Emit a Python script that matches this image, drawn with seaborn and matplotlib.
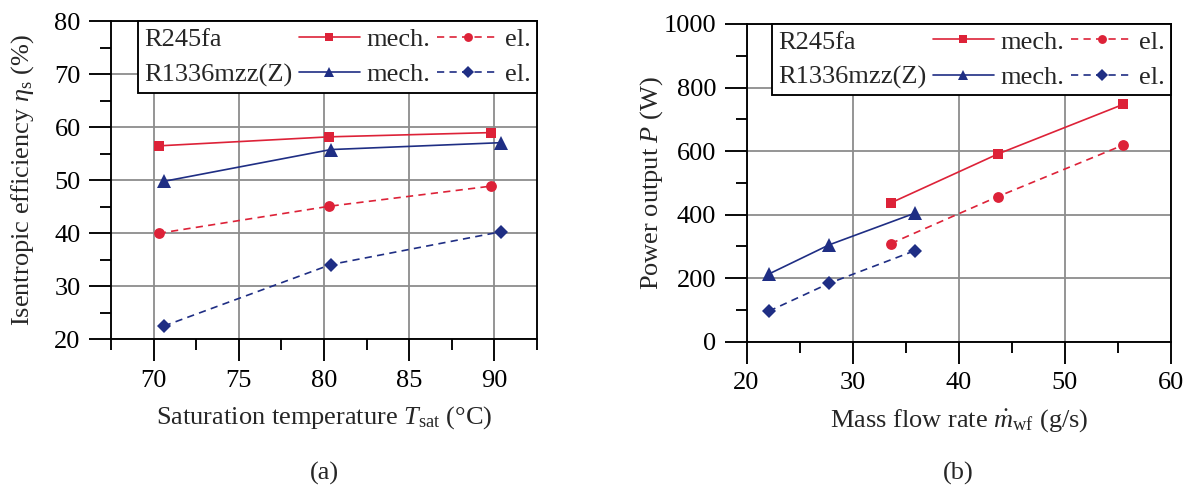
import numpy as np
import pandas as pd
import matplotlib
matplotlib.use("Agg")
import matplotlib.pyplot as plt
from matplotlib.lines import Line2D
from matplotlib.ticker import MultipleLocator
import seaborn as sns

# ---- data -------------------------------------------------------------
# (a) isentropic efficiency vs saturation temperature
t_sat_r245fa = [70.3, 80.3, 89.8]
eta_r245fa_mech = [56.5, 58.2, 59.0]
eta_r245fa_el = [40.0, 45.1, 48.9]
t_sat_r1336 = [70.6, 80.4, 90.4]
eta_r1336_mech = [49.8, 55.8, 57.1]
eta_r1336_el = [22.5, 34.1, 40.3]

# (b) power output vs mass flow rate
mdot_r245fa = [33.6, 43.7, 55.5]
p_r245fa_mech = [437, 591, 747]
p_r245fa_el = [309, 457, 619]
mdot_r1336 = [22.1, 27.8, 35.9]
p_r1336_mech = [213, 305, 405]
p_r1336_el = [96, 184, 287]

fluids = ["R245fa", "R1336mzz(Z)"]
modes = ["mech.", "el."]
panel_tags = ["(a)", "(b)"]

# ---- style ------------------------------------------------------------
sns.set_style("ticks")
plt.rcParams["font.family"] = ["Liberation Serif", "DejaVu Serif"]
plt.rcParams["mathtext.fontset"] = "custom"
plt.rcParams["mathtext.rm"] = "Liberation Serif"
plt.rcParams["mathtext.it"] = "Liberation Serif:italic"
plt.rcParams["mathtext.bf"] = "Liberation Serif:bold"
plt.rcParams["lines.scale_dashes"] = False

FS = 19
RED = "#DD2238"
BLUE = "#1F2E84"
GRID = "#8C8C8C"
LW = 1.2
DASH = (0, (5.2, 3.8))

style = {
    ("R245fa", "mech."): dict(color=RED, marker="s", markersize=6.6, linestyle="-"),
    ("R245fa", "el."): dict(color=RED, marker="o", markersize=7.8, linestyle=DASH),
    ("R1336mzz(Z)", "mech."): dict(color=BLUE, marker="^", markersize=9.6, linestyle="-"),
    ("R1336mzz(Z)", "el."): dict(color=BLUE, marker="D", markersize=7.2, linestyle=DASH),
}

fig = plt.figure(figsize=(11.91, 4.86), dpi=100)
W, H = 1191.0, 486.0
ax_a = fig.add_axes([111 / W, 1 - 339.3 / H, 426 / W, 318 / H])
ax_b = fig.add_axes([746.5 / W, 1 - 341.7 / H, 424.5 / W, 317.7 / H])

series_a = {
    ("R245fa", "mech."): (t_sat_r245fa, eta_r245fa_mech),
    ("R245fa", "el."): (t_sat_r245fa, eta_r245fa_el),
    ("R1336mzz(Z)", "mech."): (t_sat_r1336, eta_r1336_mech),
    ("R1336mzz(Z)", "el."): (t_sat_r1336, eta_r1336_el),
}
series_b = {
    ("R245fa", "mech."): (mdot_r245fa, p_r245fa_mech),
    ("R245fa", "el."): (mdot_r245fa, p_r245fa_el),
    ("R1336mzz(Z)", "mech."): (mdot_r1336, p_r1336_mech),
    ("R1336mzz(Z)", "el."): (mdot_r1336, p_r1336_el),
}


def draw_series(ax, series):
    for key, (xs, ys) in series.items():
        df = pd.DataFrame({"x": xs, "y": ys})
        st = style[key]
        sns.lineplot(data=df, x="x", y="y", ax=ax, sort=False, estimator=None,
                     legend=False, color=st["color"], marker=st["marker"],
                     markersize=st["markersize"], markeredgewidth=0,
                     linestyle=st["linestyle"], linewidth=LW, zorder=3)


def style_axes(ax, xlim, ylim, xmaj, xmin, ymaj, ymin):
    ax.set_xlim(*xlim)
    ax.set_ylim(*ylim)
    ax.xaxis.set_major_locator(MultipleLocator(xmaj))
    ax.xaxis.set_minor_locator(MultipleLocator(xmin))
    ax.yaxis.set_major_locator(MultipleLocator(ymaj))
    ax.yaxis.set_minor_locator(MultipleLocator(ymin))
    ax.set_axisbelow(True)
    ax.grid(True, which="major", color=GRID, linewidth=1.3)
    for sp in ax.spines.values():
        sp.set_visible(True)
        sp.set_color("black")
        sp.set_linewidth(1.35)
    ax.tick_params(which="major", direction="out", length=15.8, width=1.35,
                   labelsize=FS, color="black", labelcolor="black", pad=6.0)
    ax.tick_params(which="minor", direction="out", length=7.9, width=1.35,
                   color="black")
    ax.tick_params(top=False, right=False, which="both")


def add_legend(ax):
    blank = Line2D([], [], linestyle="none", marker=None)
    handles = [blank, blank]
    labels = list(fluids)
    for mode in modes:
        for fl in fluids:
            st = style[(fl, mode)]
            handles.append(Line2D([], [], color=st["color"], marker=st["marker"],
                                  markersize=st["markersize"] * 0.82,
                                  markeredgewidth=0, linestyle=st["linestyle"],
                                  linewidth=LW))
            labels.append(mode)
    leg = ax.legend(handles, labels, ncol=3, loc="upper right",
                    bbox_to_anchor=(1, 1), borderaxespad=0, fontsize=FS,
                    handlelength=2.3, handletextpad=0.27, columnspacing=0.25,
                    labelspacing=0.45, borderpad=0.23, fancybox=False,
                    framealpha=1, edgecolor="black", numpoints=1)
    leg.get_frame().set_linewidth(1.35)
    # the first column only holds fluid names: drop its handle slot
    first_col = leg._legend_handle_box.get_children()[0]
    for item in first_col.get_children():
        item.sep = 0
        item.get_children()[0].width = 0
    return leg


draw_series(ax_a, series_a)
style_axes(ax_a, (67.5, 92.5), (20, 80), 5, 2.5, 10, 5)
ax_a.set_xlabel(r"Saturation temperature $T_\mathrm{sat}$ (°C)", fontsize=FS)
ax_a.set_ylabel(r"Isentropic efficiency $\eta_\mathrm{s}$ (%)", fontsize=FS)
ax_a.xaxis.set_label_coords(0.5, -0.205)
ax_a.yaxis.set_label_coords(-0.176, 0.5)
add_legend(ax_a)

draw_series(ax_b, series_b)
style_axes(ax_b, (20, 60), (0, 1000), 10, 5, 200, 100)
ax_b.set_xlabel(r"Mass flow rate $\dot{m}_\mathrm{wf}$ (g/s)", fontsize=FS)
ax_b.set_ylabel(r"Power output $P$ (W)", fontsize=FS)
ax_b.xaxis.set_label_coords(0.5, -0.205)
ax_b.yaxis.set_label_coords(-0.192, 0.5)
add_legend(ax_b)

for ax, tag in zip([ax_a, ax_b], panel_tags):
    pos = ax.get_position()
    fig.text((pos.x0 + pos.x1) / 2, 1 - 473 / H, tag, ha="center", va="center",
             fontsize=FS)

fig.savefig("out.png", dpi=100)
